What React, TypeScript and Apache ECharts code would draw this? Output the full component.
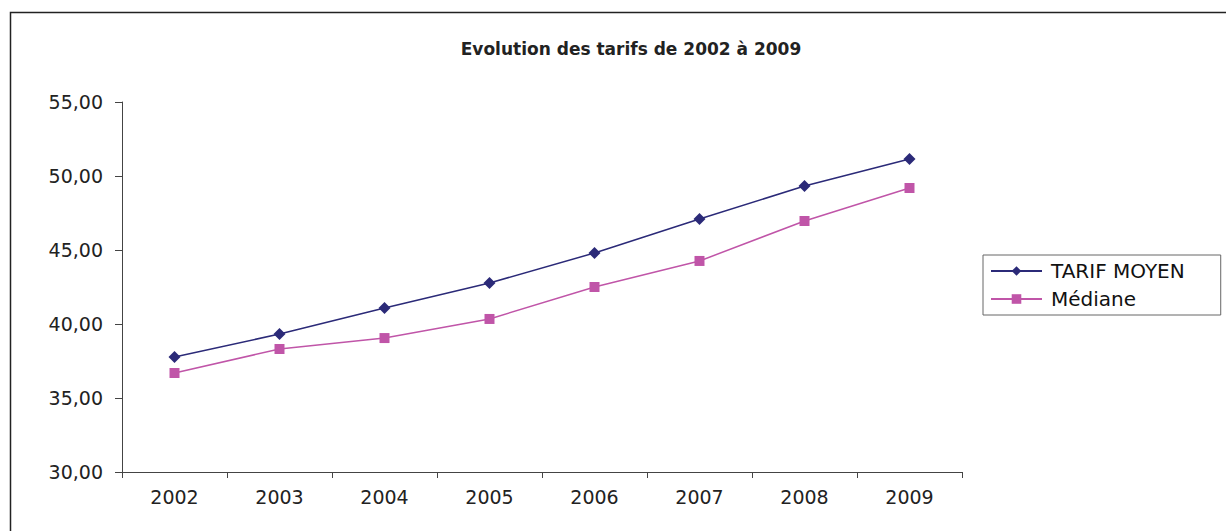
import React, { useEffect, useRef } from "react";
import * as echarts from "echarts";

const years = ["2002", "2003", "2004", "2005", "2006", "2007", "2008", "2009"];
const tarifMoyen = [37.77, 39.32, 41.08, 42.77, 44.8, 47.1, 49.32, 51.15];
const mediane = [36.69, 38.31, 39.05, 40.34, 42.5, 44.26, 46.96, 49.19];
const seriesNames = ["TARIF MOYEN", "Médiane"];
const titleText = "Evolution des tarifs de 2002 à 2009";

export default function App() {
  const ref = useRef<HTMLDivElement>(null);
  useEffect(() => {
    document.body.style.margin = "0";
    const chart = echarts.init(ref.current!, null, { renderer: "svg" });
    const font = "'DejaVu Sans', 'Liberation Sans', Arial, sans-serif";
    chart.setOption({
      animation: false,
      backgroundColor: "#ffffff",
      title: {
        text: titleText,
        left: 626,
        textAlign: "center",
        top: 35,
        textStyle: { fontFamily: font, fontSize: 17, fontWeight: "bold", color: "#222" },
      },
      graphic: [
        {
          type: "rect",
          shape: { x: 10.5, y: 12.5, width: 1240, height: 540 },
          style: { fill: "none", stroke: "#222", lineWidth: 1.5 },
          silent: true,
        },
      ],
      legend: {
        orient: "vertical",
        left: 983,
        top: 255,
        padding: [6, 36, 6, 7],
        itemGap: 8,
        itemWidth: 51,
        itemHeight: 12,
        borderColor: "#666",
        borderWidth: 1,
        data: seriesNames,
        textStyle: { fontFamily: font, fontSize: 20, color: "#111", padding: [0, 0, 0, 4] },
      },
      grid: { left: 122, right: 264, top: 102, bottom: 59, containLabel: false },
      xAxis: {
        type: "category",
        data: years,
        boundaryGap: true,
        axisLine: { lineStyle: { color: "#444", width: 1 } },
        axisTick: { show: true, length: 6, inside: false, alignWithLabel: false, lineStyle: { color: "#444" } },
        axisLabel: { fontFamily: font, fontSize: 19, color: "#222", margin: 15 },
        splitLine: { show: false },
      },
      yAxis: {
        type: "value",
        min: 30,
        max: 55,
        interval: 5,
        axisLine: { show: true, lineStyle: { color: "#444", width: 1 } },
        axisTick: { show: true, length: 7, lineStyle: { color: "#444" } },
        axisLabel: {
          fontFamily: font,
          fontSize: 19,
          color: "#222",
          margin: 19,
          formatter: (v: number) => v.toFixed(2).replace(".", ","),
        },
        splitLine: { show: false },
      },
      series: [
        {
          name: seriesNames[0],
          type: "line",
          data: tarifMoyen,
          symbol: "diamond",
          symbolSize: 12,
          lineStyle: { color: "#2b2a78", width: 1.5 },
          itemStyle: { color: "#2b2a78" },
        },
        {
          name: seriesNames[1],
          type: "line",
          data: mediane,
          symbol: "rect",
          symbolSize: 10,
          lineStyle: { color: "#c055a8", width: 1.5 },
          itemStyle: { color: "#c055a8" },
        },
      ],
    });
    return () => chart.dispose();
  }, []);
  return <div ref={ref} style={{ position: "fixed", left: 0, top: 0, width: 1226, height: 531 }} />;
}
